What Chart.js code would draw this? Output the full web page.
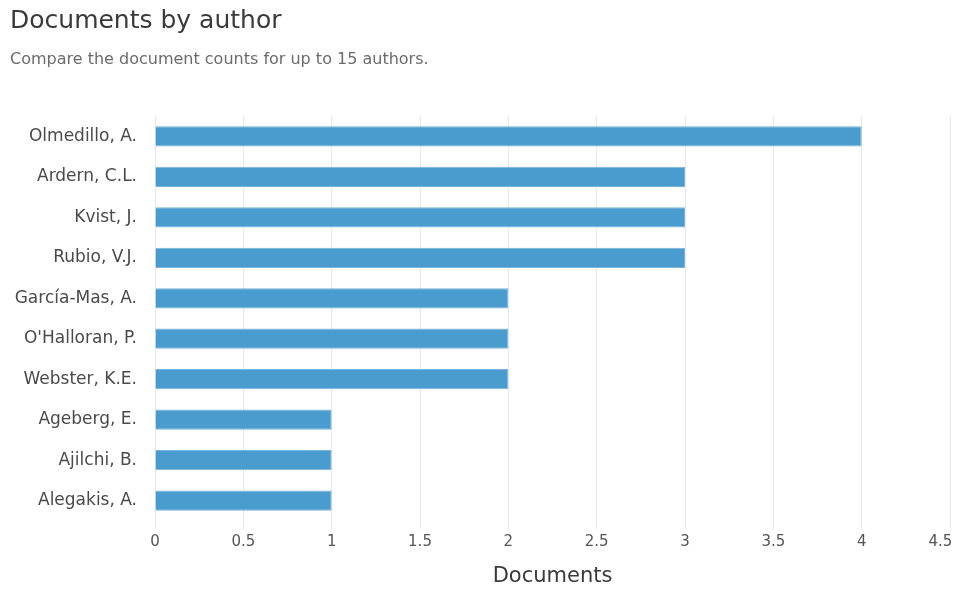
<!DOCTYPE html>
<html>
<head>
<meta charset="utf-8">
<script src="https://cdn.jsdelivr.net/npm/chart.js@4"></script>
<style>
  html, body { margin: 0; padding: 0; background: #ffffff; }
  #wrap { width: 955px; height: 589px; }
</style>
</head>
<body>
<div id="wrap"><canvas id="chart1" width="955" height="589"></canvas></div>
<script>
const authors = ['Olmedillo, A.', 'Ardern, C.L.', 'Kvist, J.', 'Rubio, V.J.', 'García-Mas, A.',
    "O'Halloran, P.", 'Webster, K.E.', 'Ageberg, E.', 'Ajilchi, B.', 'Alegakis, A.'];
const documents = [4, 3, 3, 3, 2, 2, 2, 1, 1, 1];
const xTicks = [0, 0.5, 1, 1.5, 2, 2.5, 3, 3.5, 4, 4.5];

const fontFamily = '"DejaVu Sans", sans-serif';

const dataBar = {
    labels: authors,
    datasets: [{
        label: 'Documents',
        data: documents,
        backgroundColor: 'rgb(74, 155, 206)',
        borderColor: 'rgb(120, 180, 220)',
        borderWidth: 1,
        barPercentage: 0.5,
        categoryPercentage: 1.0
    }]
};

const configBar = {
    type: 'bar',
    data: dataBar,
    options: {
        indexAxis: 'y',
        responsive: false,
        animation: false,
        layout: {
            padding: { left: 10, right: 0, top: 0, bottom: 0 }
        },
        plugins: {
            legend: { display: false },
            tooltip: { enabled: false },
            title: {
                display: true,
                text: 'Documents by author',
                align: 'start',
                color: '#3a3a3a',
                font: { family: fontFamily, size: 25, weight: 'normal' },
                padding: { top: 6, bottom: 14 }
            },
            subtitle: {
                display: true,
                text: 'Compare the document counts for up to 15 authors.',
                align: 'start',
                color: '#6b6b6b',
                font: { family: fontFamily, size: 16 },
                padding: { top: 0, bottom: 47 }
            }
        },
        scales: {
            x: {
                min: 0,
                max: 4.5,
                afterBuildTicks: (scale) => {
                    scale.ticks = xTicks.map(v => ({ value: v }));
                },
                afterFit: (scale) => { scale.paddingRight = 5; },
                ticks: {
                    color: '#555555',
                    font: { family: fontFamily, size: 15 },
                    padding: 4,
                    maxRotation: 0,
                    // last label sits a bit left of its gridline, as in the original
                    callback: (v) => v === 4.5 ? '4.5    ' : String(v)
                },
                grid: {
                    color: '#e8e8e8',
                    tickLength: 8
                },
                border: { display: false },
                title: {
                    display: true,
                    text: 'Documents',
                    color: '#3a3a3a',
                    font: { family: fontFamily, size: 21 },
                    padding: { top: 9, bottom: 0 }
                }
            },
            y: {
                afterFit: (scale) => { scale.width = 145; },
                ticks: {
                    color: '#4a4a4a',
                    font: { family: fontFamily, size: 17 },
                    padding: 10
                },
                grid: { display: false },
                border: { display: false }
            }
        }
    }
};

const chartBar = new Chart(
    document.getElementById('chart1'),
    configBar
);
</script>
</body>
</html>
